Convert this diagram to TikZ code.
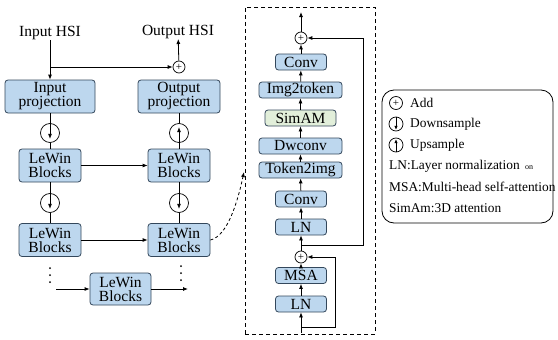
\documentclass[tikz,border=0pt]{standalone}
\usepackage{fontspec}
\setmainfont{Liberation Serif}
\usetikzlibrary{arrows.meta,positioning,calc}
\definecolor{BoxBlue}{HTML}{BDD7EE}
\definecolor{BoxGreen}{HTML}{E2EFDA}
\definecolor{BoxEdge}{HTML}{33475B}

\begin{document}
\begin{tikzpicture}[x=1pt,y=-1pt,
    blk/.style={draw=BoxEdge,rounded corners=3pt,fill=BoxBlue,line width=0.8pt,
                inner sep=0pt,align=center,font=\fontsize{15.5}{14}\selectfont},
    wide/.style={blk,minimum width=83pt,minimum height=16pt},
    slim/.style={blk,minimum width=51pt,minimum height=16pt},
    lw/.style={blk,minimum width=62pt,minimum height=33pt},
    sumc/.style={draw,circle,line width=0.7pt,inner sep=0pt,minimum size=12pt,
                 font=\fontsize{11}{11}\selectfont},
    samp/.style={draw,circle,line width=0.7pt,inner sep=0pt,minimum size=19pt},
    flow/.style={-{Latex[length=5pt,width=4pt]},line width=0.8pt},
    wire/.style={line width=0.8pt},
    vdot/.style={circle,fill,inner sep=0pt,minimum size=2pt},
    lab/.style={font=\fontsize{15.5}{14}\selectfont,inner sep=0pt},
    lgd/.style={font=\fontsize{13.4}{14}\selectfont,anchor=west,inner sep=0pt}]
  \useasboundingbox (0,0) rectangle (558,340);

  % encoder / decoder
  \node[lab] (inhsi)  at (50,33)  {Input HSI};
  \node[lab] (outhsi) at (178,32) {Output HSI};
  \node[blk,minimum width=90pt,minimum height=33pt] (inproj)  at (50,96.5)  {Input\\projection};
  \node[blk,minimum width=82pt,minimum height=33pt] (outproj) at (179,96.5) {Output\\projection};
  \node[sumc] (addO) at (179,67) {+};
  \coordinate (split) at (50,67);
  \node[samp] (down1) at (50,133) {};
  \node[samp] (up1)   at (179,133) {};
  \node[lw] (lw1l) at (50,165.5)  {LeWin\\Blocks};
  \node[lw] (lw1r) at (179,165.5) {LeWin\\Blocks};
  \node[samp] (down2) at (50,203) {};
  \node[samp] (down3) at (179,203) {};
  \node[lw] (lw2l) at (50,240)  {LeWin\\Blocks};
  \node[lw] (lw2r) at (179,240) {LeWin\\Blocks};
  \node[lw,minimum width=61pt,minimum height=32pt] (lw3) at (120.5,289) {LeWin\\Blocks};
  \foreach \yy [count=\i] in {268,275,282} {
    \node[vdot] (dl\i) at (50,\yy) {};
    \node[vdot] (dr\i) at (181,\yy-2) {};
  }
  \coordinate (botin)  at (56,289);
  \coordinate (botout) at (188,289);

  \draw[flow] (inhsi) -- (inproj);
  \draw[flow] (split) -- (addO);
  \draw[flow] (addO) -- (outhsi);
  \draw[flow,shorten >=4pt] (inproj.south) -- (down1.south);
  \draw[wire] (down1.south) -- (lw1l.north);
  \draw[flow,shorten >=4pt] (lw1r.north) -- (up1.north);
  \draw[wire] (up1.north) -- (outproj.south);
  \draw[flow] (lw1l) -- (lw1r);
  \draw[flow,shorten >=4pt] (lw1l.south) -- (down2.south);
  \draw[wire] (down2.south) -- (lw2l.north);
  \draw[flow,shorten >=4pt] (lw1r.south) -- (down3.south);
  \draw[wire] (down3.south) -- (lw2r.north);
  \draw[flow] (lw2l) -- (lw2r);
  \draw[flow] (botin) -- (lw3);
  \draw[flow] (lw3) -- (botout);

  % LeWin block detail
  \node[draw,dash pattern=on 4pt off 3pt,line width=0.8pt,minimum width=130pt,
        minimum height=327pt,inner sep=0pt] (detail) at (310,170.5) {};
  \coordinate (tipc) at (244,172);
  \draw[flow,dash pattern=on 3pt off 2.5pt] (lw2r.east) .. controls (228,236) and (238,200) .. (tipc);

  \node[sumc] (addT) at (301,38) {+};
  \coordinate (outT) at (301,12);
  \node[slim] (conv2) at (301,62)    {Conv};
  \node[wide] (i2t)   at (300.5,90)  {Img2token};
  \node[blk,fill=BoxGreen,minimum width=71pt,minimum height=16pt] (simam) at (300.5,118) {SimAM};
  \node[wide] (dw)    at (300.5,146) {Dwconv};
  \node[wide] (t2i)   at (300.5,170) {Token2img};
  \node[slim] (conv1) at (301,199)   {Conv};
  \node[slim] (ln2)   at (301,227)   {LN};
  \node[sumc] (addB)  at (301,257)   {+};
  \node[slim] (msa)   at (301,275.5) {MSA};
  \node[slim] (ln1)   at (301,304)   {LN};
  \coordinate (inB)  at (301,333);
  \coordinate (tap1) at (301,327);
  \coordinate (tap2) at (301,245);

  \draw[flow] (inB) -- (ln1);
  \draw[flow] (ln1) -- (msa);
  \draw[flow] (msa) -- (addB);
  \draw[flow] (addB) -- (ln2);
  \draw[flow] (ln2) -- (conv1);
  \draw[flow] (conv1) -- (t2i);
  \draw[flow] (t2i) -- (dw);
  \draw[flow] (dw) -- (simam);
  \draw[flow] (simam) -- (i2t);
  \draw[flow] (i2t) -- (conv2);
  \draw[flow] (conv2) -- (addT);
  \draw[flow] (addT) -- (outT);
  \draw[flow] (tap1) -- (335,327) -- (335,257) -- (addB);
  \draw[flow] (tap2) -- (363,245) -- (363,38) -- (addT);

  % legend
  \node[draw,line width=0.8pt,rounded corners=12pt,minimum width=171pt,
        minimum height=133pt,inner sep=0pt] (legend) at (467.5,156.5) {};
  \node[sumc,minimum size=13pt] (ladd) at (396,103) {+};
  \node[lgd] (tadd) at (410,103) {Add};
  \node[samp,minimum size=14pt] (ldown) at (396,124) {};
  \draw[flow,-{Latex[length=4pt,width=3.5pt]},shorten >=1.5pt] (ldown.north) -- (ldown.south);
  \node[lgd] (tdown) at (410,124) {Downsample};
  \node[samp,minimum size=14pt] (lup) at (396,145) {};
  \draw[flow,-{Latex[length=4pt,width=3.5pt]},shorten >=1.5pt] (lup.south) -- (lup.north);
  \node[lgd] (tup) at (410,145) {Upsample};
  \node[lgd] (tln) at (389,166) {LN:Layer normalization};
  \node[lgd,font=\fontsize{8}{8}\selectfont] (tlnx) at (525,168) {on};
  \node[lgd] (tmsa) at (389,187) {MSA:Multi-head self-attention};
  \node[lgd] (tsim) at (389,208) {SimAm:3D attention};
\end{tikzpicture}
\end{document}
